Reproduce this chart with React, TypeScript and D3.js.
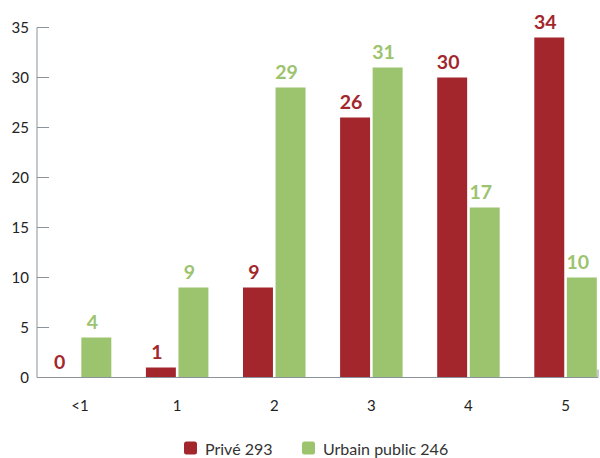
import React from "react";
import * as d3 from "d3";

const categories = ["<1", "1", "2", "3", "4", "5"];
const seriesNames = ["Privé 293", "Urbain public 246"];
const priveValues = [0, 1, 9, 26, 30, 34];
const urbainValues = [4, 9, 29, 31, 17, 10];
const yTicks = [0, 5, 10, 15, 20, 25, 30, 35];
const colors = ["#A3262D", "#9CC36E"];

const W = 600;
const H = 458;
const FONT = "Lato, 'Open Sans', sans-serif";

export default function App() {
  const axisLeft = 37;
  const axisRight = 598;
  const y = d3.scaleLinear().domain([0, 35]).range([377.5, 27.5]);
  const step = 97.1;
  const x0 = d3
    .scaleBand<string>()
    .domain(categories)
    .range([31.5, 31.5 + step * categories.length])
    .padding(0);
  const x1 = d3
    .scaleBand<string>()
    .domain(seriesNames)
    .range([step / 2 - 31.25, step / 2 + 31.25])
    .paddingInner(0.08)
    .paddingOuter(0);
  const series = [priveValues, urbainValues];
  const axisColor = "#8A939C";

  return (
    <svg
      width={W}
      height={H}
      style={{ position: "absolute", left: 0, top: 0, background: "#fff" }}
      fontFamily={FONT}
    >
      {/* y axis */}
      <line x1={axisLeft} x2={axisLeft} y1={y(35)} y2={y(0)} stroke={axisColor} strokeWidth={1} />
      {yTicks.map((t) => (
        <g key={t}>
          <line x1={axisLeft} x2={axisLeft + 12} y1={y(t)} y2={y(t)} stroke={axisColor} strokeWidth={1} />
          <text x={29} y={y(t)} dy="0.36em" textAnchor="end" fontSize={15} fill="#222">
            {t}
          </text>
        </g>
      ))}
      {/* bars */}
      {categories.map((c, i) => (
        <g key={c} transform={`translate(${x0(c)},0)`}>
          {seriesNames.map((s, j) => {
            const v = series[j][i];
            const bx = x1(s)!;
            const bw = x1.bandwidth();
            return (
              <g key={s}>
                {v > 0 && (
                  <rect x={bx} y={y(v)} width={bw} height={y(0) - y(v)} fill={colors[j]} />
                )}
                <text
                  x={bx + bw / 2 - 4}
                  y={y(v) - 8.5}
                  textAnchor="middle"
                  fontSize={19.5}
                  fontWeight={700}
                  fill={colors[j]}
                >
                  {v}
                </text>
              </g>
            );
          })}
          <text
            x={step / 2}
            y={411}
            textAnchor="middle"
            fontSize={15}
            fill="#222"
          >
            {c}
          </text>
        </g>
      ))}
      {/* x axis */}
      <line x1={axisLeft} x2={axisRight} y1={y(0)} y2={y(0)} stroke={axisColor} strokeWidth={1.2} />
      <line x1={axisRight} x2={axisRight} y1={y(0)} y2={y(0) - 8} stroke={axisColor} strokeWidth={1} />
      {/* legend */}
      {seriesNames.map((s, j) => {
        const lx = [184, 302][j];
        return (
          <g key={s}>
            <rect x={lx} y={441.5} width={13} height={13} rx={2.5} fill={colors[j]} />
            <text x={lx + 21} y={455} fontSize={16} fill="#333">
              {s}
            </text>
          </g>
        );
      })}
    </svg>
  );
}
